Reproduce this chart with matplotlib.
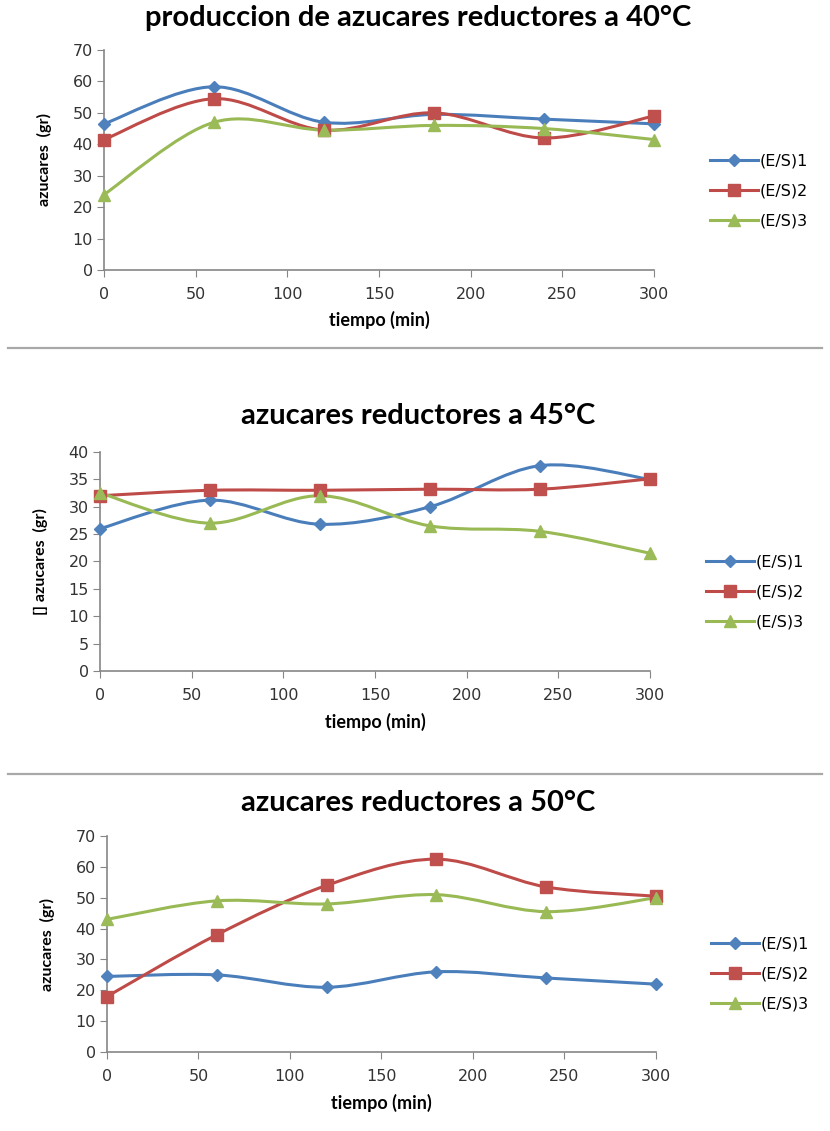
import numpy as np
import matplotlib.pyplot as plt
from matplotlib.path import Path
from matplotlib.patches import PathPatch
from matplotlib.lines import Line2D

plt.rcParams["font.family"] = ["Lato", "DejaVu Sans"]

# datos
tiempo = [0, 60, 120, 180, 240, 300]
series = ["(E/S)1", "(E/S)2", "(E/S)3"]

t40_s1 = [46.5, 58.3, 47.0, 49.5, 48.0, 46.5]
t40_s2 = [41.5, 54.5, 44.5, 50.0, 42.0, 49.0]
t40_s3 = [24.0, 47.0, 44.5, 46.0, 45.0, 41.5]

t45_s1 = [26.0, 31.2, 26.8, 30.0, 37.5, 35.0]
t45_s2 = [32.0, 33.0, 33.0, 33.2, 33.2, 35.1]
t45_s3 = [32.5, 27.0, 32.0, 26.5, 25.5, 21.5]

t50_s1 = [24.5, 25.0, 21.0, 26.0, 24.0, 22.0]
t50_s2 = [18.0, 38.0, 54.0, 62.5, 53.5, 50.5]
t50_s3 = [43.0, 49.0, 48.0, 51.0, 45.5, 50.0]

titulos = ["produccion de azucares reductores a 40°C",
           "azucares reductores a 45°C",
           "azucares reductores a 50°C"]
ylabels = ["azucares  (gr)", "[] azucares  (gr)", "azucares  (gr)"]
ymax = [70, 40, 70]
ystep = [10, 5, 10]

line_colors = ["#4A7EBB", "#BE4B48", "#98B954"]
mark_colors = ["#4F81BD", "#C0504D", "#9BBB59"]
markers = ["D", "s", "^"]
msizes = [6, 8, 8]


def curva_suave(ax, x, y, color):
    # spline tipo Excel (Catmull-Rom como Bezier cubica)
    p = np.column_stack([x, y]).astype(float)
    n = len(p)
    verts = [p[0]]
    codes = [Path.MOVETO]
    for i in range(n - 1):
        p0 = p[i - 1] if i > 0 else p[i]
        p1 = p[i]
        p2 = p[i + 1]
        p3 = p[i + 2] if i + 2 < n else p[i + 1]
        c1 = p1 + (p2 - p0) / 6
        c2 = p2 - (p3 - p1) / 6
        verts += [c1, c2, p2]
        codes += [Path.CURVE4] * 3
    ax.add_patch(PathPatch(Path(verts, codes), facecolor="none",
                           edgecolor=color, lw=2.2, zorder=2))


fig = plt.figure(figsize=(8.3, 11.31), dpi=100)

posiciones = [[0.1253, 0.7613, 0.6627, 0.1945],
              [0.1205, 0.4067, 0.6627, 0.1937],
              [0.1289, 0.0698, 0.6614, 0.1910]]
titulo_y = [0.984, 0.632, 0.290]
datos = [[t40_s1, t40_s2, t40_s3],
         [t45_s1, t45_s2, t45_s3],
         [t50_s1, t50_s2, t50_s3]]

for k in range(3):
    ax = fig.add_axes(posiciones[k])
    for j in range(3):
        curva_suave(ax, tiempo, datos[k][j], line_colors[j])
        ax.plot(tiempo, datos[k][j], linestyle="none", marker=markers[j],
                ms=msizes[j], color=mark_colors[j], zorder=3, clip_on=False)
        ax.plot([], [], color=line_colors[j], lw=2.2, marker=markers[j],
                ms=msizes[j], mfc=mark_colors[j], mec=mark_colors[j],
                label=series[j])
    ax.set_xlim(0, 300)
    ax.set_ylim(0, ymax[k])
    ax.set_xticks(range(0, 301, 50))
    ax.set_yticks(range(0, ymax[k] + 1, ystep[k]))
    for s in ["top", "right"]:
        ax.spines[s].set_visible(False)
    for s in ["left", "bottom"]:
        ax.spines[s].set_color("#868686")
        ax.spines[s].set_linewidth(1.2)
    ax.tick_params(direction="out", length=5, color="#868686",
                   labelcolor="#333333")
    ax.tick_params(axis="x", pad=7)
    ax.tick_params(axis="y", pad=3)
    for lab in ax.get_xticklabels() + ax.get_yticklabels():
        lab.set_family("DejaVu Sans")
        lab.set_fontsize(11.5)
    ax.set_xlabel("tiempo (min)", fontsize=13, fontweight="bold", labelpad=7)
    ax.set_ylabel(ylabels[k], fontsize=11.5, fontweight="bold", labelpad=15)
    ax.legend(loc="center left", bbox_to_anchor=(1.075, 0.36), frameon=False,
              prop={"family": "DejaVu Sans", "size": 11.5},
              handlelength=3.0, labelspacing=0.95, handletextpad=0.1)
    fig.text(0.504, titulo_y[k], titulos[k], ha="center", va="center",
             fontsize=21, fontweight="bold")

# lineas separadoras
for yy in [1 - 347.5 / 1131, 1 - 774 / 1131]:
    fig.add_artist(Line2D([0.01, 0.99], [yy, yy], color="#A8A8A8", lw=1.6))

fig.savefig("out.png", dpi=100)
